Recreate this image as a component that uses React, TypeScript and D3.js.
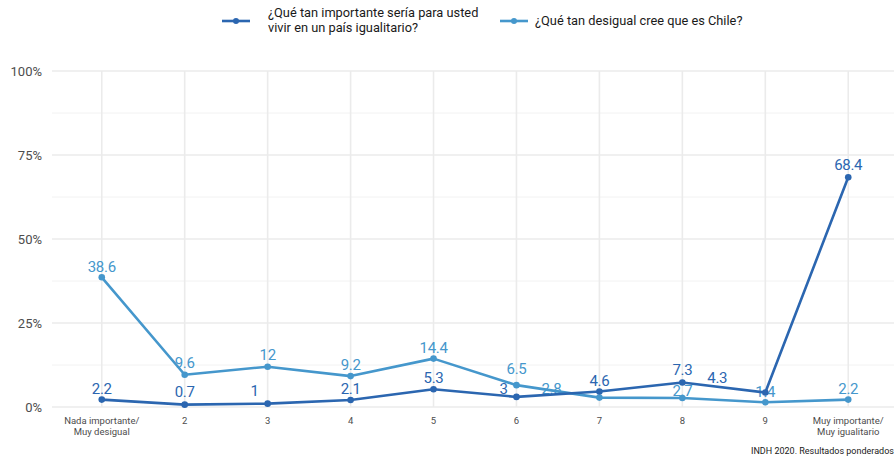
import React from "react";
import * as d3 from "d3";

const categories = ["Nada importante/\nMuy desigual", "2", "3", "4", "5", "6", "7", "8", "9", "Muy importante/\nMuy igualitario"];
const seriesNames = ["¿Qué tan importante sería para usted\nvivir en un país igualitario?", "¿Qué tan desigual cree que es Chile?"];
const importanteValues = [2.2, 0.7, 1, 2.1, 5.3, 3, 4.6, 7.3, 4.3, 68.4];
const desigualValues = [38.6, 9.6, 12, 9.2, 14.4, 6.5, 2.8, 2.7, 1.4, 2.2];
const yTicks = [0, 25, 50, 75, 100];
const yMinorTicks = [12.5, 37.5, 62.5, 87.5];
const caption = "INDH 2020. Resultados ponderados";

// label nudges (px) emulating repelled labels
const importanteNudge: [number, number][] = [[0, -11], [0, -13], [-13, -13], [0, -11], [0, -11], [-13, -8], [0, -11], [0, -13], [-48, -15], [0, -12]];
const desigualNudge: [number, number][] = [[0, -11], [0, -12], [0, -12], [0, -11], [0, -11], [0, -16], [-48, -9], [0, -7], [0, -11], [0, -11]];

const W = 894, H = 459;
const panel = { left: 52, right: 898, top: 71, bottom: 407 };
const darkColor = "#2b66b0";
const lightColor = "#4597cc";
const font = "Roboto, 'Noto Sans', sans-serif";

export default function App() {
  const x = d3.scalePoint<string>().domain(categories).range([panel.left, panel.right]).padding(0.6);
  const y = d3.scaleLinear().domain([0, 100]).range([panel.bottom, panel.top]);
  const line = d3.line<number>().x((_, i) => x(categories[i])!).y((d) => y(d));

  const series = [
    { name: seriesNames[0], values: importanteValues, color: darkColor, nudge: importanteNudge },
    { name: seriesNames[1], values: desigualValues, color: lightColor, nudge: desigualNudge },
  ];

  return (
    <svg width={W} height={H} style={{ position: "absolute", left: 0, top: 0, background: "#fff" }} fontFamily={font}>
      <rect x={0} y={0} width={W} height={H} fill="#fff" />
      {/* grid */}
      {yMinorTicks.map((t) => (
        <line key={"m" + t} x1={panel.left} x2={panel.right} y1={y(t)} y2={y(t)} stroke="#f2f2f2" strokeWidth={1} />
      ))}
      {yTicks.map((t) => (
        <line key={"y" + t} x1={panel.left} x2={panel.right} y1={y(t)} y2={y(t)} stroke="#ebebeb" strokeWidth={1.6} />
      ))}
      {categories.map((c) => (
        <line key={"x" + c} x1={x(c)} x2={x(c)} y1={panel.top} y2={panel.bottom} stroke="#ebebeb" strokeWidth={1.6} />
      ))}
      {/* y axis labels */}
      {yTicks.map((t) => (
        <text key={"yl" + t} x={42} y={y(t)} dy="0.35em" textAnchor="end" fontSize={13} fill="#4d4d4d">
          {t + "%"}
        </text>
      ))}
      {/* x axis labels */}
      {categories.map((c) => (
        <text key={"xl" + c} x={x(c)} y={424} textAnchor="middle" fontSize={9.5} fill="#4d4d4d">
          {c.split("\n").map((l, i) => (
            <tspan key={i} x={x(c)} dy={i === 0 ? 0 : 11}>{l}</tspan>
          ))}
        </text>
      ))}
      {/* labels (under lines) */}
      {series.map((s) =>
        s.values.map((v, i) => (
          <text
            key={s.name + "l" + i}
            x={x(categories[i])! + s.nudge[i][0]}
            y={y(v) + s.nudge[i][1]}
            dy="0.35em"
            textAnchor="middle"
            fontSize={15}
            letterSpacing={-0.3}
            fill={s.color}
          >
            {String(v)}
          </text>
        ))
      )}
      {/* lines */}
      {series.slice().reverse().map((s) => (
        <g key={s.name}>
          <path d={line(s.values)!} fill="none" stroke={s.color} strokeWidth={2.6} strokeLinejoin="round" />
          {s.values.map((v, i) => (
            <circle key={i} cx={x(categories[i])} cy={y(v)} r={3.3} fill={s.color} />
          ))}
        </g>
      ))}
      {/* legend */}
      {series.map((s, k) => {
        const kx = k === 0 ? 222 : 500;
        const ky = 21;
        const lines = s.name.split("\n");
        return (
          <g key={"leg" + k}>
            <line x1={kx} x2={kx + 28} y1={ky} y2={ky} stroke={s.color} strokeWidth={2.6} />
            <circle cx={kx + 14} cy={ky} r={3} fill={s.color} />
            <text x={kx + (k === 0 ? 46 : 35)} y={lines.length > 1 ? 17 : 25} fontSize={12.8} fill="#1a1a1a">
              {lines.map((l, i) => (
                <tspan key={i} x={kx + (k === 0 ? 46 : 35)} dy={i === 0 ? 0 : 15}>{l}</tspan>
              ))}
            </text>
          </g>
        );
      })}
      <text x={751} y={454} fontSize={9} fill="#1a1a1a">{caption}</text>
    </svg>
  );
}
